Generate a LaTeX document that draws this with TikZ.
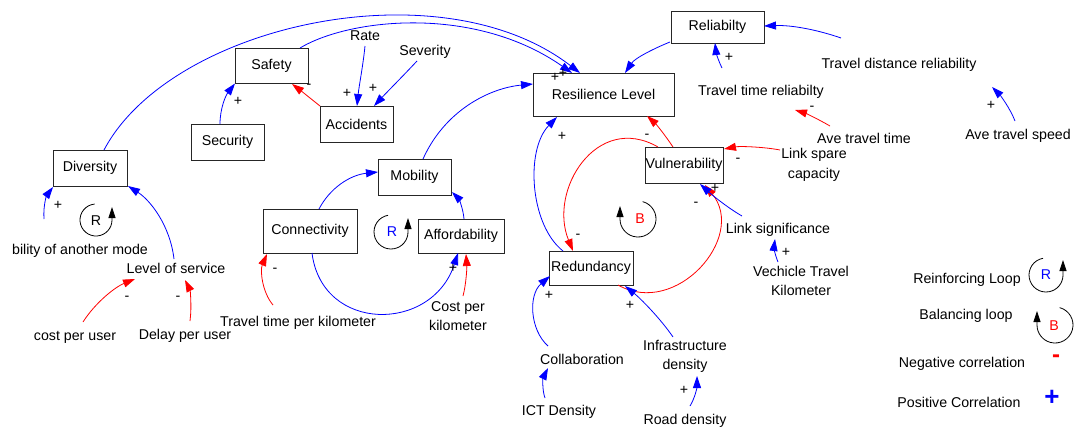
\documentclass[tikz,border=0pt]{standalone}
\usepackage{fontspec}
\setmainfont{Liberation Sans}
\usetikzlibrary{arrows.meta,calc}
\begin{document}
\begin{tikzpicture}[x=1pt,y=-1pt,
  font=\fontsize{14.2}{19.5}\selectfont,
  box/.style={draw=black!85,line width=0.9pt,inner sep=0pt},
  lbl/.style={inner sep=0pt,text height=10.2pt,text depth=0pt},
  lbltwo/.style={inner sep=0pt,align=center},
  posarr/.style={draw=blue,line width=0.8pt,-{Triangle[length=12pt,width=8pt]}},
  negarr/.style={draw=red,line width=0.8pt,-{Triangle[length=12pt,width=8pt]}},
  sgn/.style={inner sep=0pt},
  looparr/.style={draw=black,line width=0.8pt,-{Triangle[length=11pt,width=7pt]}}]
\useasboundingbox (0,0) rectangle (1078,429);

% boxes
\node[box,minimum width=93pt,minimum height=32pt] (rel) at (717.5,27) {Reliabilty};
\node[box,minimum width=141pt,minimum height=43pt] (res) at (603.5,94.5) {Resilience Level};
\node[box,minimum width=73pt,minimum height=35pt] (saf) at (271.5,65.5) {Safety};
\node[box,minimum width=73pt,minimum height=36pt] (acc) at (356.5,124) {Accidents};
\node[box,minimum width=73pt,minimum height=36pt] (sec) at (227.5,142) {Security};
\node[box,minimum width=74pt,minimum height=36pt] (div) at (90,168) {Diversity};
\node[box,minimum width=73pt,minimum height=36pt] (mob) at (414.5,177) {Mobility};
\node[box,minimum width=94pt,minimum height=44pt] (con) at (310,231) {Connectivity};
\node[box,minimum width=86pt,minimum height=34pt] (aff) at (461,236) {Affordability};
\node[box,minimum width=78pt,minimum height=36pt] (vul) at (684,165) {Vulnerability};
\node[box,minimum width=84pt,minimum height=34pt] (rdn) at (591,268) {Redundancy};

% plain labels
\node[lbl] (rate) at (365,35) {Rate};
\node[lbl] (sev) at (425,50) {Severity};
\node[lbl] (tdr) at (899,63) {Travel distance reliability};
\node[lbl] (ttr) at (761,90) {Travel time reliabilty};
\node[lbl] (att) at (864,138) {Ave travel time};
\node[lbl] (ats) at (1018,134) {Ave travel speed};
\node[lbltwo] (lsc) at (814,165) {Link spare\\capacity};
\node[lbl] (lsig) at (778,228) {Link significance};
\node[lbltwo] (vtk) at (801,281) {Vechicle Travel\\Kilometer};
\node[lbl] (los) at (176,268) {Level of service};
\node[lbl] (bam) at (80,249) {bility of another mode};
\node[lbl] (cpu) at (75,335) {cost per user};
\node[lbl] (dpu) at (185,334) {Delay per user};
\node[lbl] (ttk) at (298,321) {Travel time per kilometer};
\node[lbltwo] (cpk) at (458,316) {Cost per\\kilometer};
\node[lbl] (col) at (582,359) {Collaboration};
\node[lbl] (ict) at (559,410) {ICT Density};
\node[lbltwo] (inf) at (685,356.5) {Infrastructure\\density};
\node[lbl] (road) at (685,419) {Road density};

% legend
\node[lbl] (lgr) at (967,278) {Reinforcing Loop};
\node[lbl] (lgb) at (966,314) {Balancing loop};
\node[lbl] (lgn) at (962,362) {Negative correlation};
\node[lbl] (lgp) at (959,402) {Positive Correlation};
\node[inner sep=0pt,text=red,font=\fontsize{24}{24}\bfseries\selectfont] (lgminus) at (1056,359) {-};
\node[inner sep=0pt,text=blue,font=\fontsize{26}{26}\bfseries\selectfont] (lgplus) at (1052,398) {+};

% loops
\node[inner sep=0pt] (loopa) at (96,221) {R};
\draw[looparr] ([shift={(95:16pt)}]96,220) arc[start angle=95,end angle=360,radius=16pt] -- ++(0,-13);
\node[inner sep=0pt,text=blue] (loopb) at (392,232) {R};
\draw[looparr] ([shift={(100:17pt)}]391,232) arc[start angle=100,end angle=360,radius=17pt] -- ++(0,-14);
\node[inner sep=0pt,text=red] (loopc) at (640,219) {B};
\draw[looparr] ([shift={(75:18pt)}]638,219) arc[start angle=75,end angle=-180,radius=18pt] -- ++(0,-13);
\node[inner sep=0pt,text=blue] (loopd) at (1046,275) {R};
\draw[looparr] ([shift={(100:17pt)}]1046,275) arc[start angle=100,end angle=360,radius=17pt] -- ++(0,-15);
\node[inner sep=0pt,text=red] (loope) at (1054,326) {B};
\draw[looparr] ([shift={(75:18pt)}]1055,325) arc[start angle=75,end angle=-180,radius=18pt] -- ++(0,-14);

% connectors
\draw[posarr] ($(div)+(14,-18)$) .. controls (170,25) and (440,-35) .. ($(res)+(-23.5,-21.5)$);
\draw[posarr] ($(saf)+(28.5,-17.5)$) .. controls (350,18) and (475,5) .. ($(res)+(-31.5,-21.5)$);
\draw[posarr] ($(rel)+(-47.5,15)$) .. controls (655,48) and (635,58) .. ($(res)+(21.5,-21.5)$);
\draw[posarr] ($(tdr)+(-58,-25)$) .. controls (815,29) and (790,25) .. ($(rel)+(46.5,-1)$);
\draw[posarr] ($(ttr)+(-39,-22)$) .. controls (718,60) and (716,52) .. ($(rel)+(-2.5,16)$);
\draw[negarr] ($(att)+(-34,-12)$) .. controls (818,119) and (805,113) .. ($(ttr)+(34,20)$);
\draw[posarr] ($(ats)+(-3,-13)$) .. controls (1010,108) and (1000,95) .. ($(tdr)+(93,24)$);
\draw[negarr] ($(lsc)+(-34,-15)$) .. controls (765,147) and (740,146) .. ($(vul)+(40,-16)$);
\draw[negarr] ($(vul)+(-11,-18)$) .. controls (665,135) and (656,124) .. ($(res)+(43.5,21.5)$);
\draw[posarr] ($(rdn)+(-28,-17)$) .. controls (530,225) and (525,150) .. ($(res)+(-46.5,22.5)$);
\draw[negarr] ($(vul)+(-26,-18)$) .. controls (597,112) and (548,190) .. ($(rdn)+(-18,-17)$);
\draw[negarr] ($(rdn)+(27,17)$) .. controls (676,318) and (747,237) .. ($(vul)+(21,20)$);
\draw[posarr] ($(lsig)+(-36,-12)$) .. controls (728,208) and (712,195) .. ($(vul)+(16,19)$);
\draw[posarr] ($(vtk)+(-23,-19)$) .. controls (775,255) and (774,247) .. ($(lsig)+(-3,11)$);
\draw[posarr] ($(col)+(-34,-13)$) .. controls (530,330) and (528,295) .. ($(rdn)+(-41,8)$);
\draw[posarr] ($(ict)+(-14,-12)$) .. controls (542,390) and (543,378) .. ($(col)+(-34,9)$);
\draw[posarr] ($(inf)+(-12,-19.5)$) .. controls (660,318) and (640,298) .. ($(rdn)+(34,18)$);
\draw[posarr] ($(road)+(5,-13)$) .. controls (695,398) and (697,387) .. ($(inf)+(12,19.5)$);
\draw[posarr] ($(mob)+(8.5,-18)$) .. controls (445,110) and (490,88) .. ($(res)+(-70.5,-10.5)$);
\draw[posarr] ($(con)+(9,-22)$) .. controls (330,188) and (350,175) .. ($(mob)+(-36.5,-5)$);
\draw[posarr] ($(aff)+(3,-17)$) .. controls (463,207) and (458,198) .. ($(mob)+(37.5,15)$);
\draw[posarr] ($(con)+(2,22)$) .. controls (322,333) and (432,333) .. ($(aff)+(-3,17)$);
\draw[negarr] ($(cpk)+(5,-20)$) .. controls (466,285) and (467,268) .. ($(aff)+(5,18)$);
\draw[negarr] ($(ttk)+(-25,-16)$) .. controls (262,292) and (260,270) .. ($(con)+(-43,23)$);
\draw[posarr] ($(sec)+(-7.5,-18)$) .. controls (220,108) and (226,95) .. ($(saf)+(-36.5,18)$);
\draw[negarr] ($(acc)+(-36.5,-18)$) .. controls (310,98) and (300,90) .. ($(saf)+(20.5,18.5)$);
\draw[posarr] ($(rate)+(0,11)$) .. controls (363,66) and (359,86) .. ($(acc)+(0.5,-18)$);
\draw[posarr] ($(sev)+(-8,11)$) .. controls (403,76) and (388,91) .. ($(acc)+(17.5,-18)$);
\draw[posarr] ($(bam)+(-36,-30)$) .. controls (43,205) and (47,195) .. ($(div)+(-37,19)$);
\draw[posarr] ($(los)+(-2,-9)$) .. controls (170,225) and (150,200) .. ($(div)+(38,18)$);
\draw[negarr] ($(cpu)+(8,-13)$) .. controls (95,303) and (115,287) .. ($(los)+(-41,11)$);
\draw[negarr] ($(dpu)+(5,-13)$) .. controls (192,306) and (190,290) .. ($(los)+(9,12)$);

% polarity signs
\node[sgn] (s1) at (555,77) {+};
\node[sgn] (s2) at (563,73) {+};
\node[sgn] (s3) at (729,57) {+};
\node[sgn] (s4) at (812,108) {-};
\node[sgn] (s5) at (991,105) {+};
\node[sgn] (s6) at (738,160) {-};
\node[sgn] (s7) at (647,136) {-};
\node[sgn] (s8) at (562,136) {+};
\node[sgn] (s9) at (578,236) {-};
\node[sgn] (s10) at (696,204) {-};
\node[sgn] (s11) at (715,188) {+};
\node[sgn] (s12) at (786,252) {+};
\node[sgn] (s13) at (549,295) {+};
\node[sgn] (s14) at (630,305) {+};
\node[sgn] (s15) at (684,390) {+};
\node[sgn] (s16) at (275,270) {-};
\node[sgn] (s17) at (453,268) {+};
\node[sgn] (s18) at (238,101) {+};
\node[sgn] (s19) at (309,86) {-};
\node[sgn] (s20) at (347,93) {+};
\node[sgn] (s21) at (373,88) {+};
\node[sgn] (s22) at (58,205) {+};
\node[sgn] (s23) at (127,298) {-};
\node[sgn] (s24) at (178,298) {-};
\end{tikzpicture}
\end{document}
